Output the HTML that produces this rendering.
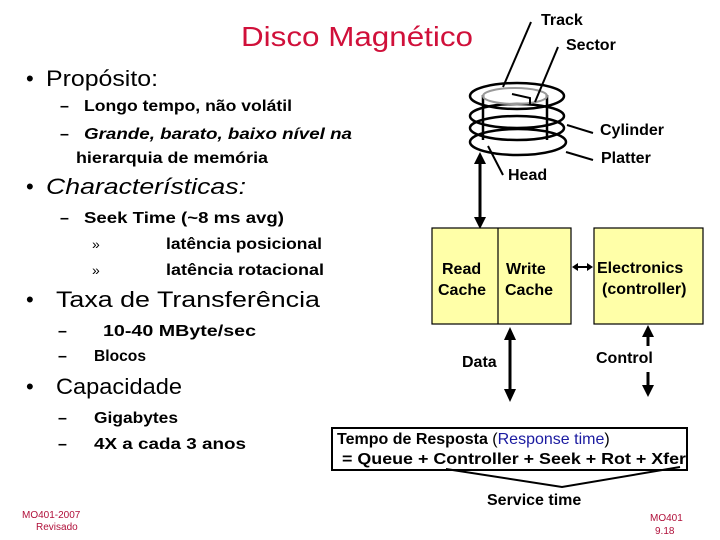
<!DOCTYPE html>
<html><head><meta charset="utf-8"><style>body{margin:0;background:#fff}svg{display:block}</style></head>
<body>
<svg width="720" height="540" xmlns="http://www.w3.org/2000/svg" font-family="Liberation Sans, sans-serif">
<text x="241" y="46" font-size="28" fill="#d0103a" textLength="232" lengthAdjust="spacingAndGlyphs">Disco Magnético</text>
<g fill="#000">
<text x="26" y="86" font-size="22">•</text><text x="46" y="86" font-size="22" textLength="112" lengthAdjust="spacingAndGlyphs">Propósito:</text>
<text x="60" y="111" font-size="16" font-weight="bold">–</text><text x="84" y="111" font-size="16" font-weight="bold" textLength="208" lengthAdjust="spacingAndGlyphs">Longo tempo, não volátil</text>
<text x="60" y="139" font-size="16" font-weight="bold">–</text><text x="84" y="139" font-size="16" font-weight="bold" font-style="italic" textLength="268" lengthAdjust="spacingAndGlyphs">Grande, barato, baixo nível na</text>
<text x="76" y="163" font-size="16" font-weight="bold" textLength="192" lengthAdjust="spacingAndGlyphs">hierarquia de memória</text>
<text x="26" y="194" font-size="22">•</text><text x="46" y="194" font-size="22" font-style="italic" textLength="200" lengthAdjust="spacingAndGlyphs">Characterísticas:</text>
<text x="60" y="223" font-size="16" font-weight="bold">–</text><text x="84" y="223" font-size="16" font-weight="bold" textLength="200" lengthAdjust="spacingAndGlyphs">Seek Time (~8 ms avg)</text>
<text x="92" y="249" font-size="14">»</text><text x="166" y="249" font-size="16" font-weight="bold" textLength="156" lengthAdjust="spacingAndGlyphs">latência posicional</text>
<text x="92" y="275" font-size="14">»</text><text x="166" y="275" font-size="16" font-weight="bold" textLength="158" lengthAdjust="spacingAndGlyphs">latência rotacional</text>
<text x="26" y="307" font-size="22">•</text><text x="56" y="307" font-size="22" textLength="264" lengthAdjust="spacingAndGlyphs">Taxa de Transferência</text>
<text x="58" y="336" font-size="16" font-weight="bold">–</text><text x="103" y="336" font-size="16" font-weight="bold" textLength="153" lengthAdjust="spacingAndGlyphs">10-40 MByte/sec</text>
<text x="58" y="361" font-size="16" font-weight="bold">–</text><text x="94" y="361" font-size="16" font-weight="bold" textLength="52" lengthAdjust="spacingAndGlyphs">Blocos</text>
<text x="26" y="394" font-size="22">•</text><text x="56" y="394" font-size="22" textLength="126" lengthAdjust="spacingAndGlyphs">Capacidade</text>
<text x="58" y="423" font-size="16" font-weight="bold">–</text><text x="94" y="423" font-size="16" font-weight="bold" textLength="84" lengthAdjust="spacingAndGlyphs">Gigabytes</text>
<text x="58" y="449" font-size="16" font-weight="bold">–</text><text x="94" y="449" font-size="16" font-weight="bold" textLength="152" lengthAdjust="spacingAndGlyphs">4X a cada 3 anos</text>
</g>
<text x="22" y="518" font-size="10" fill="#b0103a">MO401-2007</text>
<text x="36" y="530" font-size="10" fill="#b0103a">Revisado</text>
<text x="650" y="521" font-size="10" fill="#b0103a">MO401</text>
<text x="655" y="534" font-size="10" fill="#b0103a">9.18</text>
<g fill="none" stroke="#000" stroke-width="2.5">
<ellipse cx="518" cy="142" rx="48" ry="13"/>
<ellipse cx="517" cy="128" rx="47" ry="12"/>
<ellipse cx="517" cy="116" rx="47" ry="12"/>
<ellipse cx="517" cy="96" rx="47" ry="13"/>
<line x1="483" y1="95" x2="483" y2="140"/><line x1="547" y1="95" x2="547" y2="140"/>
</g>
<ellipse cx="515" cy="96" rx="32" ry="8" fill="none" stroke="#999" stroke-width="2"/>
<g stroke="#000" stroke-width="2" fill="none">
<line x1="531" y1="22" x2="503" y2="87"/>
<line x1="558" y1="47" x2="535" y2="102"/>
<path d="M512,94 L530,98 L530,104"/>
<line x1="567" y1="125" x2="593" y2="133"/>
<line x1="566" y1="152" x2="593" y2="160"/>
<line x1="488" y1="146" x2="503" y2="175"/>
</g>
<g font-size="16" font-weight="bold" fill="#000">
<text x="541" y="25">Track</text><text x="566" y="50">Sector</text>
<text x="600" y="135">Cylinder</text><text x="601" y="163">Platter</text>
<text x="508" y="180">Head</text>
</g>
<!-- arrows as explicit shapes -->
<g stroke="#000" stroke-width="3">
<line x1="480" y1="160" x2="480" y2="222"/>
<line x1="510" y1="338" x2="510" y2="392"/>
<line x1="648" y1="335" x2="648" y2="346"/>
<line x1="648" y1="372" x2="648" y2="388"/>
</g>
<g fill="#000">
<polygon points="480,152 474,164 486,164"/>
<polygon points="480,229 474,217 486,217"/>
<polygon points="510,327 504,340 516,340"/>
<polygon points="510,402 504,389 516,389"/>
<polygon points="648,325 642,337 654,337"/>
<polygon points="648,397 642,385 654,385"/>
</g>
<rect x="432" y="228" width="139" height="96" fill="#ffffa8" stroke="#000" stroke-width="1.2"/>
<line x1="498" y1="228" x2="498" y2="324" stroke="#000" stroke-width="1.2"/>
<rect x="594" y="228" width="109" height="96" fill="#ffffa8" stroke="#000" stroke-width="1.2"/>
<line x1="576" y1="267" x2="589" y2="267" stroke="#000" stroke-width="2"/>
<polygon points="572,267 578,263 578,271" fill="#000"/>
<polygon points="593,267 587,263 587,271" fill="#000"/>
<g font-size="16" font-weight="bold" fill="#000">
<text x="442" y="274">Read</text><text x="438" y="295">Cache</text>
<text x="506" y="274">Write</text><text x="505" y="295">Cache</text>
<text x="597" y="273">Electronics</text><text x="602" y="294">(controller)</text>
<text x="462" y="367">Data</text><text x="596" y="363">Control</text>
</g>
<rect x="332" y="428" width="355" height="42" fill="#fff" stroke="#000" stroke-width="2"/>
<text x="337" y="444" font-size="16" font-weight="bold">Tempo de Resposta <tspan font-weight="normal">(</tspan><tspan font-weight="normal" fill="#1a1aa0">Response time</tspan><tspan font-weight="normal">)</tspan></text>
<text x="342" y="464" font-size="16" font-weight="bold" textLength="344" lengthAdjust="spacingAndGlyphs">= Queue + Controller + Seek + Rot + Xfer</text>
<path d="M446,469 L562,487 L680,467" fill="none" stroke="#000" stroke-width="2"/>
<text x="487" y="505" font-size="16" font-weight="bold">Service time</text>
</svg>
</body></html>
